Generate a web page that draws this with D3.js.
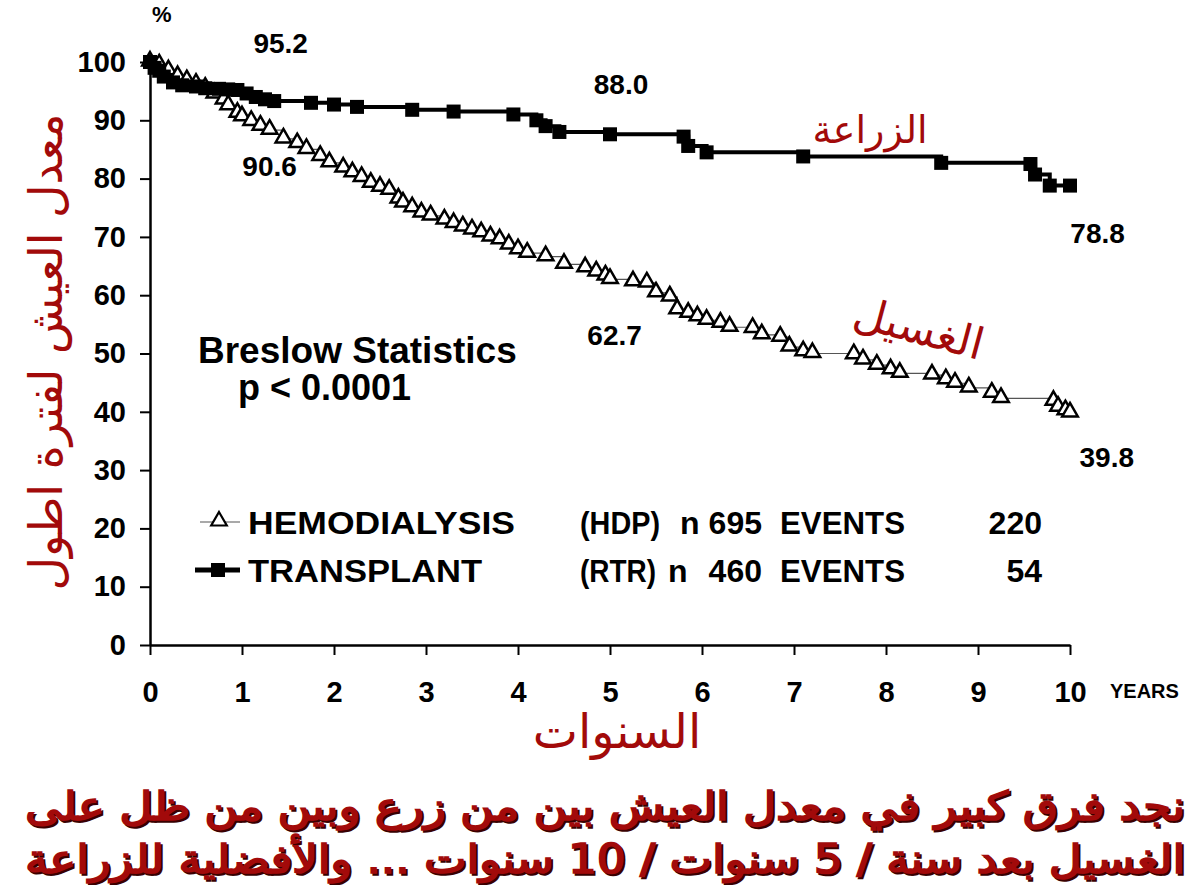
<!DOCTYPE html>
<html>
<head>
<meta charset="utf-8">
<script src="https://cdn.jsdelivr.net/npm/d3@7"></script>
<style>
  body { margin: 0; background: #fff; }
  svg text { font-family: "Liberation Sans", Arial, sans-serif; }
</style>
</head>
<body>
<div id="chart"></div>
<script>
// transplant (RTR) survival, step curve with squares
var rtrYears  = [0, 0.05, 0.1, 0.15, 0.25, 0.35, 0.5, 0.6, 0.75, 0.85, 0.95, 1.05, 1.15, 1.25, 1.35, 1.75, 2.0, 2.25, 2.85, 3.3, 3.95, 4.2, 4.3, 4.45, 5.0, 5.8, 5.85, 6.05, 7.1, 8.6, 9.57, 9.62, 9.78, 10];
var rtrValues = [100, 99, 98.5, 97.5, 96.5, 96, 95.8, 95.5, 95.4, 95.3, 95.2, 94.6, 94, 93.6, 93.3, 93, 92.7, 92.3, 91.8, 91.5, 91, 90, 89, 88, 87.6, 87.2, 85.6, 84.5, 83.8, 82.7, 82.5, 80.7, 78.8, 78.8];

// hemodialysis (HDP) survival, thin step curve with open triangles
var hdpYears  = [0, 0.1, 0.2, 0.3, 0.4, 0.5, 0.6, 0.7, 0.8, 0.85, 0.95, 1.0, 1.1, 1.2, 1.3, 1.45, 1.6, 1.7, 1.85, 1.95, 2.1, 2.2, 2.3, 2.4, 2.5, 2.6, 2.7, 2.75, 2.85, 2.95, 3.05, 3.2, 3.3, 3.4, 3.5, 3.6, 3.7, 3.8, 3.9, 4.0, 4.1, 4.3, 4.5, 4.73, 4.85, 4.95, 5.0, 5.25, 5.4, 5.5, 5.65, 5.73, 5.85, 5.95, 6.05, 6.2, 6.3, 6.55, 6.65, 6.85, 6.95, 7.1, 7.2, 7.65, 7.75, 7.9, 8.05, 8.15, 8.5, 8.65, 8.75, 8.9, 9.15, 9.25, 9.82, 9.87, 9.95, 10];
var hdpValues = [100, 99.5, 98.5, 97.5, 96.8, 96.2, 95.5, 94.5, 93.5, 92.5, 91.2, 90.6, 89.8, 89, 88.3, 86.8, 86, 85, 83.8, 82.7, 81.8, 81, 80.2, 79.2, 78.5, 78, 76.5, 75.8, 75, 74.1, 73.6, 72.9, 72.3, 71.7, 71.2, 70.7, 70, 69.5, 68.6, 67.8, 67.2, 66.6, 65.3, 64.7, 64, 63.3, 62.7, 62.3, 62.1, 60.4, 59.7, 57.5, 56.9, 56.3, 55.7, 55.2, 54.5, 54.3, 53.2, 52.8, 51.1, 50.3, 50, 49.8, 48.9, 48, 47.2, 46.6, 46.3, 45.5, 44.9, 44.1, 43.2, 42.3, 41.8, 40.8, 40.2, 39.8];

var yTicks = [0, 10, 20, 30, 40, 50, 60, 70, 80, 90, 100];
var xTicks = [0, 1, 2, 3, 4, 5, 6, 7, 8, 9, 10];

// value labels written on the chart
var valueLabels = [
  {text: "95.2", year: 1.42, value: 101.5},
  {text: "90.6", year: 1.3, value: 80.5},
  {text: "88.0", year: 5.12, value: 94.5},
  {text: "62.7", year: 5.05, value: 51.5},
  {text: "78.8", year: 10.3, value: 69},
  {text: "39.8", year: 10.4, value: 30.5}
];

var legendRows = [
  {name: "HEMODIALYSIS", code: "(HDP)", n: "695", events: "220", mark: "tri"},
  {name: "TRANSPLANT", code: "(RTR)", n: "460", events: "54", mark: "sq"}
];

var darkRed = "#a20a0a";

var svg = d3.select("#chart").append("svg")
    .attr("width", 1200)
    .attr("height", 885);

var x = d3.scaleLinear().domain([0, 10]).range([150, 1070]);
var y = d3.scaleLinear().domain([0, 100]).range([645, 62]);

// axes
var yAxis = svg.append("g")
    .attr("transform", "translate(150,0)")
    .call(d3.axisLeft(y).tickValues(yTicks).tickSize(10).tickSizeOuter(0).tickPadding(14));
var xAxis = svg.append("g")
    .attr("transform", "translate(0,645)")
    .call(d3.axisBottom(x).tickValues(xTicks).tickSize(10).tickSizeOuter(0).tickPadding(26));

[yAxis, xAxis].forEach(function(ax) {
  ax.select(".domain").attr("stroke", "#000").attr("stroke-width", 2.5);
  ax.selectAll(".tick line").attr("stroke", "#000").attr("stroke-width", 2);
  ax.selectAll(".tick text")
      .attr("fill", "#000")
      .style("font-size", "29px")
      .style("font-weight", "bold");
});

svg.append("text").attr("x", 152).attr("y", 22)
    .style("font-size", "22px").style("font-weight", "bold").text("%");
svg.append("text").attr("x", 1110).attr("y", 698)
    .style("font-size", "20px").style("font-weight", "bold").text("YEARS");

// curves
var rtr = rtrYears.map(function(t, i) { return [t, rtrValues[i]]; });
var hdp = hdpYears.map(function(t, i) { return [t, hdpValues[i]]; });

var line = d3.line()
    .x(function(d) { return x(d[0]); })
    .y(function(d) { return y(d[1]); })
    .curve(d3.curveStepAfter);

svg.append("path").datum(hdp)
    .attr("d", line)
    .attr("fill", "none")
    .attr("stroke", "#555")
    .attr("stroke-width", 1.2);

svg.append("path").datum(rtr)
    .attr("d", line)
    .attr("fill", "none")
    .attr("stroke", "#000")
    .attr("stroke-width", 4);

var tri = d3.symbol().type(d3.symbolTriangle).size(105);

svg.selectAll(".tri").data(hdp).enter().append("path")
    .attr("class", "tri")
    .attr("d", tri)
    .attr("transform", function(d) { return "translate(" + x(d[0]) + "," + (y(d[1]) - 1) + ")"; })
    .attr("fill", "#fff")
    .attr("stroke", "#000")
    .attr("stroke-width", 2.5);

svg.selectAll(".sq").data(rtr).enter().append("rect")
    .attr("class", "sq")
    .attr("x", function(d) { return x(d[0]) - 7; })
    .attr("y", function(d) { return y(d[1]) - 7; })
    .attr("width", 14)
    .attr("height", 14)
    .attr("fill", "#000");

// value labels
svg.selectAll(".val").data(valueLabels).enter().append("text")
    .attr("class", "val")
    .attr("x", function(d) { return x(d.year); })
    .attr("y", function(d) { return y(d.value); })
    .attr("text-anchor", "middle")
    .style("font-size", "28px")
    .style("font-weight", "bold")
    .text(function(d) { return d.text; });

// statistics note
svg.append("text").attr("x", 198).attr("y", 363)
    .style("font-size", "37px").style("font-weight", "bold").text("Breslow Statistics");
svg.append("text").attr("x", 238).attr("y", 400)
    .style("font-size", "36px").style("font-weight", "bold").text("p < 0.0001");

// legend
var leg = svg.selectAll(".leg").data(legendRows).enter().append("g")
    .attr("class", "leg")
    .attr("transform", function(d, i) { return "translate(0," + (522 + i * 48) + ")"; });

leg.append("line")
    .attr("x1", function(d) { return d.mark == "sq" ? 195 : 200; })
    .attr("x2", 240)
    .attr("stroke", function(d) { return d.mark == "sq" ? "#000" : "#555"; })
    .attr("stroke-width", function(d) { return d.mark == "sq" ? 5 : 1.2; });
leg.each(function(d) {
  var g = d3.select(this);
  if (d.mark == "sq") {
    g.append("rect").attr("x", 211).attr("y", -7).attr("width", 14).attr("height", 14).attr("fill", "#000");
  } else {
    g.append("path").attr("d", tri).attr("transform", "translate(219,-1)")
        .attr("fill", "#fff").attr("stroke", "#000").attr("stroke-width", 2.2);
  }
});

var legSize = "32px";
function legText(g, xPos, field, anchor) {
  return g.append("text")
      .attr("x", xPos)
      .attr("y", 12)
      .attr("text-anchor", anchor || "start")
      .style("font-size", legSize)
      .style("font-weight", "bold")
      .text(function(d) { return d[field]; });
}
legText(leg, 248, "name")
    .attr("textLength", function(d, i) { return i == 0 ? 267 : 234; })
    .attr("lengthAdjust", "spacingAndGlyphs");
legText(leg, 580, "code")
    .attr("textLength", function(d, i) { return i == 0 ? 80 : 76; })
    .attr("lengthAdjust", "spacingAndGlyphs");
leg.append("text").attr("x", function(d, i) { return i == 0 ? 680 : 668; }).attr("y", 12)
    .style("font-size", legSize).style("font-weight", "bold").text("n");
legText(leg, 762, "n", "end");
leg.append("text").attr("x", 780).attr("y", 12)
    .attr("textLength", 125).attr("lengthAdjust", "spacingAndGlyphs")
    .style("font-size", legSize).style("font-weight", "bold").text("EVENTS");
legText(leg, 1042, "events", "end");

// arabic annotations
function arabic(xPos, yPos, size, txt, rot) {
  return svg.append("text")
      .attr("transform", "translate(" + xPos + "," + yPos + ") rotate(" + (rot || 0) + ")")
      .attr("text-anchor", "middle")
      .attr("direction", "rtl")
      .style("font-family", "'DejaVu Sans', sans-serif")
      .style("font-size", size + "px")
      .attr("fill", darkRed)
      .text(txt);
}

arabic(870, 143, 38, "الزراعة");
arabic(915, 343, 44, "الغسيل", 15);
arabic(617, 748, 48, "السنوات");
arabic(62, 352, 46, "معدل العيش لفترة اطول", -90);

// bottom sentence, dark shadow under red text
var sentence = [
  "نجد فرق كبير في معدل العيش بين من زرع وبين من ظل على",
  "الغسيل بعد سنة / 5 سنوات / 10 سنوات ... والأفضلية للزراعة"
];
sentence.forEach(function(s, i) {
  [["#3a0000", 2], [darkRed, 0]].forEach(function(p) {
    svg.append("text")
        .attr("x", 605 + p[1])
        .attr("y", 820 + i * 53 + p[1])
        .attr("text-anchor", "middle")
        .attr("direction", "rtl")
        .attr("textLength", 1160)
        .attr("lengthAdjust", "spacingAndGlyphs")
        .style("font-family", "'DejaVu Sans', sans-serif")
        .style("font-size", "40px")
        .attr("fill", p[0])
        .attr("stroke", p[0])
        .attr("stroke-width", 1.6)
        .text(s);
  });
});
</script>
</body>
</html>
